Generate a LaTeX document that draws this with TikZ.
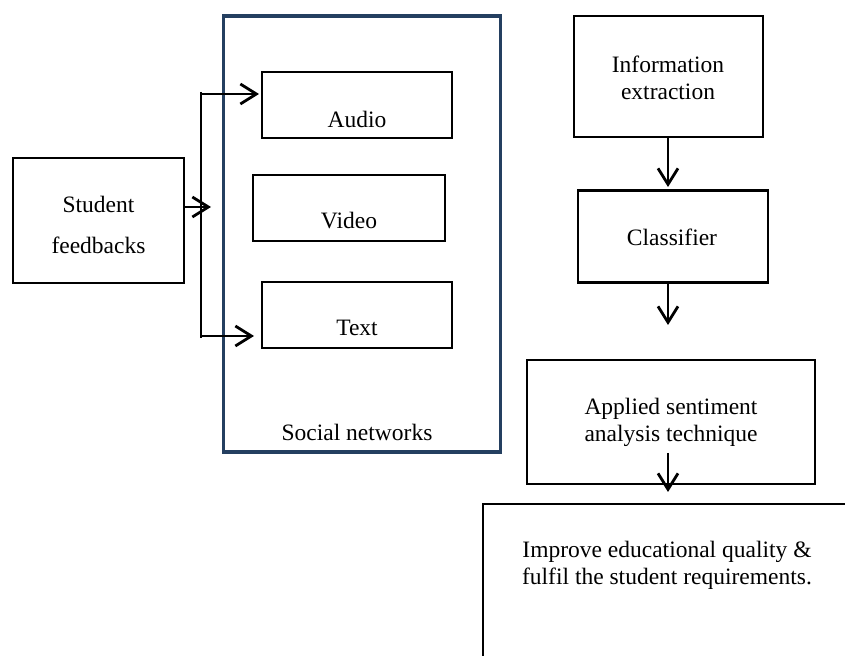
\documentclass[tikz,border=0pt]{standalone}
\usepackage{fontspec}
\setmainfont{Liberation Serif}
\usetikzlibrary{arrows.meta}
\definecolor{netblue}{HTML}{243F60}
\tikzset{
  box/.style={draw=black, line width=1.2pt, inner sep=0pt, fill=none},
  lbl/.style={inner sep=0pt, align=center, font=\fontsize{11.75}{13.5}\selectfont},
  arr/.style={line width=1.1pt, -{Straight Barb[length=8pt,width=10pt,line width=1.4pt]}},
  ln/.style={line width=1.1pt}
}
\begin{document}
\begin{tikzpicture}[x=0.5pt,y=-0.5pt]
\useasboundingbox (0,0) rectangle (845,656);
\clip (0,0) rectangle (845,656);
% social networks container
\node[draw=netblue, line width=1.6pt, inner sep=0pt, minimum width=138.5pt, minimum height=218pt] (social) at (362.3,234) {};
\node[lbl] (sociallbl) at (357,432) {Social networks};
% student feedbacks
\node[box, minimum width=85.5pt, minimum height=62.5pt] (feedback) at (98.4,220.5) {};
\node[lbl, font=\fontsize{11.75}{20.5}\selectfont] (feedbacklbl) at (98.5,225) {Student\\feedbacks};
% media boxes
\node[box, minimum width=95pt, minimum height=33pt] (audio) at (357,105) {};
\node[lbl] (audiolbl) at (357,119) {Audio};
\node[box, minimum width=96pt, minimum height=33pt] (video) at (349,208) {};
\node[lbl] (videolbl) at (349,221) {Video};
\node[box, minimum width=95pt, minimum height=33pt] (textbox) at (357,315) {};
\node[lbl] (textlbl) at (357,328) {Text};
% right column
\node[box, minimum width=94.5pt, minimum height=60.5pt] (info) at (668.3,76.5) {};
\node[lbl] (infolbl) at (668,78) {Information\\extraction};
\node[box, minimum width=95pt, minimum height=46pt] (classifier) at (673,236.7) {};
\node[lbl] (classifierlbl) at (672,237) {Classifier};
\node[box, minimum width=144pt, minimum height=62pt] (applied) at (671,422) {};
\node[lbl] (appliedlbl) at (671,422) {Applied sentiment\\analysis technique};
\node[box, minimum width=250pt, minimum height=150pt, anchor=north west] (improve) at (482,503) {};
\node[lbl] (improvelbl) at (667,565) {Improve educational quality \&\\fulfil the student requirements.};
% bracket connectors
\coordinate (btop) at (201,92);
\coordinate (bbot) at (201,338);
\coordinate (atop) at (201,94);
\coordinate (abot) at (201,336);
\coordinate (amid) at (211,207);
\coordinate (atopend) at (259,94);
\coordinate (abotend) at (254,336);
\draw[ln] (btop) -- (bbot);
\draw[arr] (atop) -- (atopend);
\draw[arr] (abot) -- (abotend);
\draw[arr] (amid -| feedback.east) -- (amid);
% vertical arrows
\coordinate (a1s) at (668,137);
\coordinate (a1e) at (668,187);
\coordinate (a2s) at (668,283);
\coordinate (a2e) at (668,325);
\coordinate (a3s) at (668,453);
\coordinate (a3e) at (668,492);
\draw[arr] (a1s) -- (a1e);
\draw[arr] (a2s) -- (a2e);
\draw[arr] (a3s) -- (a3e);
\end{tikzpicture}
\end{document}
